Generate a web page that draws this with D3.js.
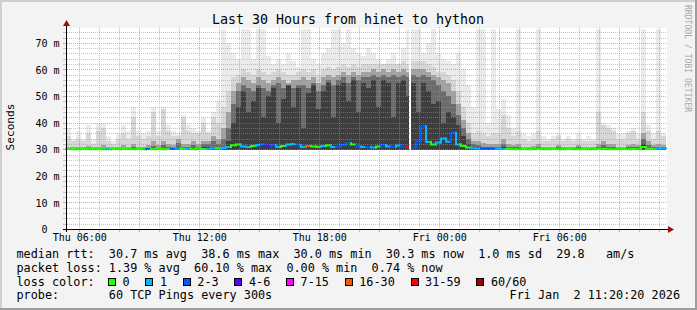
<!DOCTYPE html>
<html>
<head>
<meta charset="utf-8">
<script src="https://cdn.jsdelivr.net/npm/d3@7"></script>
<style>
  body { margin: 0; background: #f3f3f3; }
  svg { display: block; font-family: "DejaVu Sans Mono", monospace; }
  text { white-space: pre; }
</style>
</head>
<body>
<svg id="smoke-svg" width="697" height="310"></svg>
<script>

var startTime = new Date(2026, 0, 1, 5, 20, 20),
    endTime   = new Date(2026, 0, 2, 11, 20, 20),
    stepMinutes = 15;

// smoke: sorted ping quantiles per 15 min step (ms), lightest/outermost first
var maxRtt = [
  38, 34, 37, 34, 39, 34, 40, 40, 35, 33,
  36, 39, 37, 46, 37, 36, 37, 46, 37, 46,
  39, 37, 36, 43, 39, 38, 37, 42, 37, 44,
  48, 76, 70, 66, 64, 76, 76, 64, 76, 76,
  65, 62, 64, 62, 66, 63, 61, 76, 76, 64,
  62, 66, 68, 76, 76, 70, 76, 68, 66, 65,
  68, 66, 64, 62, 64, 66, 62, 68, 76, 76,
  76, 66, 70, 76, 66, 64, 63, 62, 66, 60,
  54, 46, 76, 76, 40, 76, 45, 49, 43, 38,
  76, 36, 35, 36, 76, 35, 34, 35, 36, 34,
  35, 34, 36, 34, 35, 34, 76, 40, 39, 38,
  36, 36, 37, 38, 36, 76, 39, 36, 76, 36
];
var upperRtt = [
  35, 33, 34, 33, 36, 32, 37, 38, 33, 32,
  34, 36, 34, 42, 35, 34, 35, 44, 35, 45,
  37, 35, 35, 42, 37, 36, 36, 40, 36, 42,
  40, 46, 52, 57, 58, 60, 59, 58, 60, 59,
  58, 59, 60, 59, 58, 58, 59, 60, 59, 60,
  58, 60, 61, 60, 61, 62, 61, 62, 61, 62,
  62, 62, 62, 62, 62, 62, 62, 63, 62, 63,
  63, 63, 62, 61, 59, 59, 58, 56, 52, 46,
  40, 36, 37, 36, 35, 36, 36, 43, 38, 35,
  37, 34, 33, 34, 37, 33, 33, 34, 35, 33,
  34, 33, 34, 33, 33, 33, 44, 39, 38, 37,
  34, 34, 36, 37, 34, 44, 37, 34, 37, 35
];
var midRtt = [
  31, 30.8, 31, 30.8, 31.2, 30.8, 31, 31.5, 30.8, 30.8,
  31, 31.5, 31, 32, 31, 31, 31.5, 33, 31.5, 33,
  32, 31.5, 34, 32, 32, 33, 32, 33, 33, 35,
  34, 38, 44, 52, 55, 57, 56, 55, 57, 56,
  55, 56, 57, 56, 55, 56, 56, 57, 56, 57,
  55, 57, 58, 57, 58, 59, 58, 59, 58, 59,
  59, 60, 59, 60, 59, 60, 59, 60, 59, 60,
  60, 60, 59, 58, 57, 56, 55, 52, 47, 41,
  36, 33, 33, 32.5, 32, 32, 32, 34, 32, 31.5,
  32, 31, 31, 31.2, 32, 31, 31, 31, 31.5, 31,
  31, 31, 31.5, 31, 31, 31, 32, 33, 32, 32,
  31, 31, 31.5, 32, 31.5, 36, 33, 31.5, 32, 31.5
];
var lowRtt = [
  30.3, 30.2, 30.4, 30.2, 30.4, 30.2, 30.3, 30.5, 30.2, 30.2,
  30.3, 30.5, 30.3, 30.8, 30.3, 30.3, 30.5, 31.2, 30.5, 31.5,
  31, 30.5, 32.5, 31, 31, 31.5, 31, 32, 32, 33,
  32, 34, 38, 47, 52, 54, 53, 52, 54, 53,
  52, 54, 55, 53, 52, 53, 54, 54, 53, 55,
  52, 54, 56, 54, 56, 57, 55, 57, 56, 57,
  57, 58, 57, 58, 57, 58, 57, 58, 57, 58,
  57, 58, 57, 56, 54, 52, 50, 47, 43, 38,
  34, 32, 31.5, 31, 31, 31, 31, 32, 31, 30.8,
  31, 30.5, 30.4, 30.5, 31, 30.5, 30.4, 30.5, 30.8, 30.5,
  30.5, 30.4, 30.8, 30.5, 30.4, 30.5, 31, 31.5, 31, 31,
  30.5, 30.5, 31, 31, 31, 34, 31.5, 31, 31, 30.8
];
var coreRtt = [
  30, 30, 30, 30, 30, 30, 30, 30, 30, 30,
  30, 30, 30, 30, 30, 30, 30, 30, 30, 30,
  30, 30, 31, 30.3, 30.3, 30.5, 30.3, 30.8, 30.8, 31,
  30.5, 31, 33, 40, 46, 52, 44, 48, 53, 42,
  50, 53, 40, 49, 54, 46, 53, 38, 51, 54,
  45, 52, 55, 42, 54, 55, 48, 56, 44, 55,
  53, 56, 46, 56, 55, 42, 55, 56, 50, 55,
  44, 55, 52, 47, 48, 40, 44, 42, 39, 35,
  32, 31, 30.8, 30.5, 30.3, 30.3, 30.3, 30.8, 30.3, 30.2,
  30.3, 30, 30, 30, 30.3, 30, 30, 30, 30.2, 30,
  30, 30, 30.2, 30, 30, 30, 30.3, 30.5, 30.3, 30.3,
  30, 30, 30.3, 30.3, 30.5, 32, 30.5, 30.3, 30.3, 30.2
];
var minRtt = 29.7;

var medianRtt = [
  30.1, 30.0, 30.0, 30.1, 30.0, 30.0, 30.1, 30.0, 30.0, 30.1,
  30.0, 30.1, 30.2, 30.0, 30.1, 30.0, 30.1, 30.0, 30.2, 30.0,
  30.1, 30.2, 30.3, 30.1, 30.2, 30.0, 30.3, 30.1, 30.2, 30.4,
  30.3, 30.5, 30.8, 31.5, 31.8, 31.0, 30.8, 31.2, 31.6, 32.0,
  31.0, 31.5, 30.8, 31.2, 31.8, 32.0, 31.5, 30.8, 31.2, 31.0,
  30.8, 31.2, 31.5, 30.8, 31.0, 31.6, 32.2, 31.8, 31.0, 30.8,
  30.8, 30.6, 31.0, 31.6, 31.0, 30.8, 31.4, 31.0, 30.7, 30.6,
  33.0, 38.6, 32.7, 31.8, 32.5, 34.0, 32.8, 36.2, 31.8, 31.2,
  30.6, 30.4, 30.3, 30.2, 30.2, 30.1, 30.2, 30.1, 30.1, 30.0,
  30.0, 30.1, 30.0, 30.0, 30.1, 30.0, 30.0, 30.1, 30.0, 30.0,
  30.1, 30.0, 30.0, 30.1, 30.0, 30.0, 30.1, 30.1, 30.0, 30.0,
  30.0, 30.1, 30.0, 30.1, 30.0, 30.8, 30.2, 30.1, 30.3, 30.3
];
// index into lossLabels
var lossBin = [
  0, 0, 0, 0, 0, 0, 0, 0, 1, 0,
  0, 0, 0, 0, 0, 0, 2, 0, 0, 0,
  0, 2, 1, 0, 1, 0, 0, 0, 1, 1,
  0, 1, 1, 0, 0, 1, 1, 0, 1, 2,
  3, 2, 1, 0, 1, 1, 2, 1, 5, 0,
  0, 1, 0, 1, 2, 2, 2, 0, 2, 1,
  2, 1, 0, 2, 1, 2, 1, 2, 6, 2,
  2, 2, 1, 0, 1, 1, 1, 2, 1, 0,
  0, 1, 1, 2, 2, 2, 1, 1, 0, 0,
  0, 0, 0, 0, 0, 0, 0, 0, 0, 0,
  0, 0, 0, 0, 0, 0, 0, 0, 0, 0,
  0, 0, 0, 0, 0, 0, 0, 0, 1, 1
];
var missingSteps = [new Date(2026, 0, 1, 22, 30)];

var lossLabels = ["0", "1", "2-3", "4-6", "7-15", "16-30", "31-59", "60/60"];
var rttSummary = [30.7, 38.6, 30.0, 30.3, 1.0, 29.8];   // avg max min now sd am/s
var lossSummary = [1.39, 60.10, 0.00, 0.74];           // avg max min now
var yTickValues = [0, 10, 20, 30, 40, 50, 60, 70];
var xTickTimes = [new Date(2026, 0, 1, 6), new Date(2026, 0, 1, 12), new Date(2026, 0, 1, 18),
                  new Date(2026, 0, 2, 0), new Date(2026, 0, 2, 6)];

var smokeColors = ["#ebebeb", "#d6d6d6", "#a2a2a2", "#6c6c6c", "#3e3e3e"];
var lossColors = ["#26ff00", "#00b8ff", "#0059ff", "#5e00ff", "#ff00ff", "#ff5500", "#ff0000", "#a00000"];

var svg = d3.select("#smoke-svg"),
    width = +svg.attr("width"),
    height = +svg.attr("height"),
    plot = {left: 66, right: 666, top: 29, bottom: 229};

var x = d3.scaleTime().domain([startTime, endTime]).range([plot.left, plot.right]),
    y = d3.scaleLinear().domain([0, 75.2]).range([plot.bottom, plot.top]);

var times = medianRtt.map(function(d, i) { return d3.timeMinute.offset(startTime, i * stepMinutes); });
function stepEnd(i) { return d3.timeMinute.offset(times[i], stepMinutes); }
function clampY(v) { return y(Math.min(v, y.domain()[1])); }
function px(v) { return Math.round(v) + 0.5; }

// frame
svg.append("rect").attr("width", width).attr("height", height).attr("fill", "#f3f3f3");
svg.append("path").attr("d", "M0,0H" + width + "V2H2V" + height + "H0Z").attr("fill", "#cfcfcf");
svg.append("path").attr("d", "M" + width + ",0V" + height + "H0V" + (height - 2) + "H" + (width - 2) + "V0Z").attr("fill", "#9e9e9e");

svg.append("rect")
    .attr("x", plot.left).attr("y", plot.top - 1)
    .attr("width", plot.right - plot.left + 1).attr("height", plot.bottom - plot.top + 1)
    .attr("fill", "#ffffff");

svg.append("defs").append("clipPath").attr("id", "clip")
  .append("rect")
    .attr("x", plot.left).attr("y", plot.top - 1)
    .attr("width", plot.right - plot.left + 1).attr("height", plot.bottom - plot.top + 1);

var smoke = svg.append("g").attr("clip-path", "url(#clip)").attr("shape-rendering", "crispEdges");

[maxRtt, upperRtt, midRtt, lowRtt, coreRtt].forEach(function(vals, li) {
  smoke.append("g").selectAll("rect")
    .data(vals)
    .join("rect")
      .attr("x", function(d, i) { return x(times[i]); })
      .attr("width", function(d, i) { return x(stepEnd(i)) - x(times[i]); })
      .attr("y", function(d) { return clampY(d); })
      .attr("height", function(d) { return Math.max(0, y(minRtt) - clampY(d)); })
      .attr("fill", smokeColors[li]);
});

// median rtt coloured by loss
var median = svg.append("g").attr("fill", "none").attr("stroke-width", 2).attr("stroke-linecap", "square");
median.selectAll("path")
  .data(medianRtt)
  .join("path")
    .attr("d", function(d, i) {
      var prev = i > 0 ? medianRtt[i - 1] : d;
      return "M" + x(times[i]) + "," + y(prev) + "V" + y(d) + "H" + x(stepEnd(i));
    })
    .attr("stroke", function(d, i) { return lossColors[lossBin[i]]; });

svg.append("g").selectAll("rect")
  .data(missingSteps)
  .join("rect")
    .attr("x", function(d) { return Math.round(x(d)); })
    .attr("width", 2)
    .attr("y", plot.top)
    .attr("height", plot.bottom - plot.top)
    .attr("fill", "#ffffff");

// grid (dotted, drawn over the smoke)
var grid = svg.append("g").attr("stroke-dasharray", "1,1");
var hours = d3.timeHour.range(d3.timeHour.ceil(startTime), endTime);
var minorGrid = "rgba(150,150,150,0.55)", majorGrid = "rgba(235,90,90,0.6)";

grid.selectAll("line.v")
  .data(hours)
  .join("line")
    .attr("class", "v")
    .attr("x1", function(d) { return px(x(d)); })
    .attr("x2", function(d) { return px(x(d)); })
    .attr("y1", plot.top - 2)
    .attr("y2", plot.bottom)
    .attr("stroke", function(d) { return d.getHours() % 3 === 0 ? majorGrid : minorGrid; });

var yLines = d3.range(2, 75, 2);
grid.selectAll("line.h")
  .data(yLines)
  .join("line")
    .attr("class", "h")
    .attr("x1", plot.left + 1)
    .attr("x2", plot.right + 1)
    .attr("y1", function(d) { return px(y(d)); })
    .attr("y2", function(d) { return px(y(d)); })
    .attr("stroke", function(d) { return d % 10 === 0 ? majorGrid : minorGrid; });

// small ticks outside the axes
var ticks = svg.append("g").attr("shape-rendering", "crispEdges");
ticks.selectAll("line.xt")
  .data(hours)
  .join("line")
    .attr("class", "xt")
    .attr("x1", function(d) { return px(x(d)); })
    .attr("x2", function(d) { return px(x(d)); })
    .attr("y1", plot.bottom)
    .attr("y2", plot.bottom + 3)
    .attr("stroke", function(d) { return d.getHours() % 3 === 0 ? majorGrid : minorGrid; });
ticks.selectAll("line.yt")
  .data(yLines)
  .join("line")
    .attr("class", "yt")
    .attr("x1", plot.left - 3)
    .attr("x2", plot.left)
    .attr("y1", function(d) { return px(y(d)); })
    .attr("y2", function(d) { return px(y(d)); })
    .attr("stroke", function(d) { return d % 10 === 0 ? majorGrid : minorGrid; });

// axes lines + arrows
svg.append("line")
    .attr("x1", plot.left - 3).attr("x2", plot.right + 2)
    .attr("y1", plot.bottom + 0.5).attr("y2", plot.bottom + 0.5)
    .attr("stroke", "#000").attr("shape-rendering", "crispEdges");
svg.append("line")
    .attr("x1", plot.left + 0.5).attr("x2", plot.left + 0.5)
    .attr("y1", plot.bottom + 3).attr("y2", plot.top - 3)
    .attr("stroke", "#000").attr("shape-rendering", "crispEdges");
svg.append("path")
    .attr("d", "M" + (plot.right + 2) + "," + (plot.bottom - 3) + "L" + (plot.right + 8) + "," + (plot.bottom + 0.5) + "L" + (plot.right + 2) + "," + (plot.bottom + 4) + "Z")
    .attr("fill", "#9b1010");
svg.append("path")
    .attr("d", "M" + (plot.left - 3) + "," + (plot.top - 3) + "L" + (plot.left + 0.5) + "," + (plot.top - 9) + "L" + (plot.left + 4) + "," + (plot.top - 3) + "Z")
    .attr("fill", "#9b1010");

// axis labels
var xAxis = d3.axisBottom(x)
    .tickValues(xTickTimes)
    .tickFormat(d3.timeFormat("%a %H:%M"))
    .tickSize(0)
    .tickPadding(4);
var gx = svg.append("g").attr("transform", "translate(0," + (plot.bottom + 0.5) + ")").call(xAxis);
gx.select(".domain").remove();
gx.attr("font-family", "DejaVu Sans Mono").attr("font-size", 10);

var yAxis = d3.axisLeft(y)
    .tickValues(yTickValues)
    .tickFormat(function(d) { return d === 0 ? "0" : d + " m"; })
    .tickSize(0)
    .tickPadding(6.5);
var gy = svg.append("g").attr("transform", "translate(" + plot.left + ",0)").call(yAxis);
gy.select(".domain").remove();
gy.attr("font-family", "DejaVu Sans Mono").attr("font-size", 10);
gy.selectAll("text")
    .attr("dy", "0.36em")
    .attr("dx", function(d) { return d === 0 ? -12 : 0; });  // blank unit column for zero

svg.append("text")
    .attr("x", 348).attr("y", 24)
    .attr("text-anchor", "middle")
    .attr("font-size", 13.3)
    .text("Last 30 Hours from hinet to hython");

svg.append("text")
    .attr("transform", "translate(13.5,127) rotate(-90)")
    .attr("text-anchor", "middle")
    .attr("font-size", 11.2)
    .text("Seconds");

svg.append("text")
    .attr("transform", "translate(685,5) rotate(90)")
    .attr("font-size", 8.1)
    .attr("fill", "#a8a8a8")
    .text("RRDTOOL / TOBI OETIKER");

// legend
var f1 = d3.format(".1f"), f2 = d3.format(".2f");
var legendX = 16.5, legendSize = 11.8;
var legend = svg.append("g").attr("font-size", legendSize).attr("fill", "#000");

legend.append("text").attr("x", legendX).attr("y", 257.7)
    .text("median rtt:  " + f1(rttSummary[0]) + " ms avg  " + f1(rttSummary[1]) + " ms max  " +
          f1(rttSummary[2]) + " ms min  " + f1(rttSummary[3]) + " ms now  " +
          f1(rttSummary[4]) + " ms sd  " + f1(rttSummary[5]) + "   am/s");
legend.append("text").attr("x", legendX).attr("y", 271.7)
    .text("packet loss: " + f2(lossSummary[0]) + " % avg  " + f2(lossSummary[1]) + " % max  " +
          f2(lossSummary[2]) + " % min  " + f2(lossSummary[3]) + " % now");
legend.append("text").attr("x", legendX).attr("y", 285.6).text("loss color:");

var cursor = 108;
lossLabels.forEach(function(label, i) {
  legend.append("rect")
      .attr("x", cursor + 0.5).attr("y", 278.5)
      .attr("width", 7).attr("height", 7)
      .attr("fill", lossColors[i])
      .attr("stroke", "#000")
      .attr("shape-rendering", "crispEdges");
  var t = legend.append("text").attr("x", cursor + 14.5).attr("y", 285.6).text(label);
  cursor = cursor + 14.5 + t.node().getComputedTextLength() + 15.8;
});

legend.append("text").attr("x", legendX).attr("y", 299.4).text("probe:       60 TCP Pings every 300s");
legend.append("text").attr("x", 680).attr("y", 299.4).attr("text-anchor", "end")
    .text("Fri Jan  2 11:20:20 2026");

</script>
</body>
</html>
